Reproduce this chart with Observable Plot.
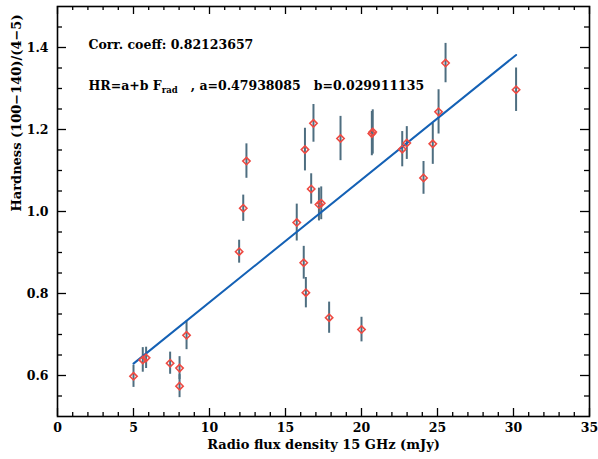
<!DOCTYPE html>
<html><head><meta charset="utf-8">
<script src="https://cdn.jsdelivr.net/npm/d3@7"></script>
<script src="https://cdn.jsdelivr.net/npm/@observablehq/plot@0.6"></script>
<style>body{margin:0;background:#fff}</style>
</head><body><div id="chart"></div>
<script>
// Data
const flux     = [5.00, 5.61, 5.83, 7.41, 8.03, 8.03, 8.49, 11.95, 12.22, 12.43, 15.74, 16.20, 16.34, 16.28, 16.69, 16.84, 17.20, 17.35, 18.62, 17.87, 20.00, 20.68, 20.74, 22.68, 22.98, 24.08, 24.69, 25.07, 25.53, 30.17];
const hardness = [0.598, 0.638, 0.643, 0.630, 0.618, 0.574, 0.698, 0.902, 1.008, 1.123, 0.973, 0.875, 0.802, 1.151, 1.055, 1.215, 1.017, 1.020, 1.178, 0.741, 0.712, 1.190, 1.194, 1.152, 1.167, 1.082, 1.165, 1.243, 1.362, 1.297];
const hardErr  = [0.027, 0.030, 0.026, 0.027, 0.028, 0.028, 0.035, 0.028, 0.032, 0.042, 0.045, 0.040, 0.037, 0.052, 0.037, 0.046, 0.040, 0.040, 0.054, 0.038, 0.030, 0.054, 0.054, 0.043, 0.040, 0.040, 0.050, 0.054, 0.048, 0.053];
const fitA = 0.47938085, fitB = 0.029911135;
const fitRange = [5.00, 30.17];
const xMajor = [0, 5, 10, 15, 20, 25, 30, 35];
const yMajor = [0.6, 0.8, 1.0, 1.2, 1.4];
const xMinor = d3.range(0, 36).filter(v => v % 5 !== 0);
const yMinor = [0.55, 0.65, 0.7, 0.75, 0.85, 0.9, 0.95, 1.05, 1.1, 1.15, 1.25, 1.3, 1.35, 1.45];
const corrText = "Corr. coeff: 0.82123657";
const xLabel = "Radio flux density 15 GHz (mJy)";
const yLabel = "Hardness (100\u2212140)/(4\u22125)";

const pts = flux.map((f, i) => ({f, h: hardness[i], e: hardErr[i]}));
const fit = fitRange.map(f => ({f, h: fitA + fitB * f}));

const W = 598, H = 459, mL = 57, mR = 9, mT = 6, mB = 43;
const fh = H - mT - mB, fw = W - mL - mR;
const font = "DejaVu Serif";
const red = "#ee4a42", bar = "#4e6e80", blue = "#1461b5";

const chart = Plot.plot({
  width: W, height: H,
  marginLeft: mL, marginRight: mR, marginTop: mT, marginBottom: mB,
  style: {fontFamily: font, fontWeight: "bold", fontSize: "12px", background: "#fff", color: "#000"},
  x: {domain: [0, 35]},
  y: {domain: [0.5, 1.5]},
  marks: [
    // ticks inside the frame
    Plot.tickX(xMajor, {x: d => d, insetTop: fh - 8, stroke: "#000", strokeWidth: 1.3}),
    Plot.tickX(xMajor, {x: d => d, insetBottom: fh - 8, stroke: "#000", strokeWidth: 1.3}),
    Plot.tickX(xMinor, {x: d => d, insetTop: fh - 4, stroke: "#000", strokeWidth: 1.3}),
    Plot.tickX(xMinor, {x: d => d, insetBottom: fh - 4, stroke: "#000", strokeWidth: 1.3}),
    Plot.tickY(yMajor, {y: d => d, insetRight: fw - 9, stroke: "#000", strokeWidth: 1.3}),
    Plot.tickY(yMajor, {y: d => d, insetLeft: fw - 9, stroke: "#000", strokeWidth: 1.3}),
    Plot.tickY(yMinor, {y: d => d, insetRight: fw - 5, stroke: "#000", strokeWidth: 1.3}),
    Plot.tickY(yMinor, {y: d => d, insetLeft: fw - 5, stroke: "#000", strokeWidth: 1.3}),
    Plot.frame({stroke: "#000", strokeWidth: 1.6}),
    Plot.axisX({ticks: xMajor, tickSize: 0, tickPadding: 7, label: null, tickFormat: d => String(d), fontSize: 12.5}),
    Plot.axisY({ticks: yMajor, tickSize: 0, tickPadding: 9, label: null, tickFormat: d => d.toFixed(1), fontSize: 12.5}),
    Plot.text([xLabel], {frameAnchor: "bottom", dy: 32, text: d => d, fontSize: 13, fill: "#000"}),
    Plot.text([yLabel], {frameAnchor: "left", dx: -41, rotate: -90, text: d => d, fontSize: 13, fill: "#000"}),
    // error bars
    Plot.ruleX(pts, {x: "f", y1: d => d.h - d.e, y2: d => d.h + d.e, stroke: bar, strokeWidth: 2}),
    // fit line
    Plot.line(fit, {x: "f", y: "h", stroke: blue, strokeWidth: 2}),
    // markers
    Plot.dot(pts, {x: "f", y: "h", symbol: "diamond2", r: 3.3, stroke: red, strokeWidth: 1.6, fill: "none"}),
    // annotations
    Plot.text([corrText], {frameAnchor: "top-left", dx: 31, dy: 34, text: d => d, textAnchor: "start", fontSize: 12.5, fill: "#000"}),
    Plot.text(["HRTEXT"], {frameAnchor: "top-left", dx: 31, dy: 75, text: d => d, textAnchor: "start", fontSize: 12.5, fill: "#000"})
  ]
});

// build the subscripted text
d3.select(chart).selectAll("text").each(function() {
  if (this.textContent === "HRTEXT") {
    const t = d3.select(this);
    t.text(null);
    t.append("tspan").text("HR=a+b F");
    t.append("tspan").attr("font-size", 8.5).attr("dy", 3).text("rad");
    t.append("tspan").attr("dy", -3).attr("xml:space", "preserve").style("white-space", "pre").text("   , a=0.47938085   b=0.029911135");
  }
});

document.getElementById("chart").appendChild(chart);
</script>
</body></html>
